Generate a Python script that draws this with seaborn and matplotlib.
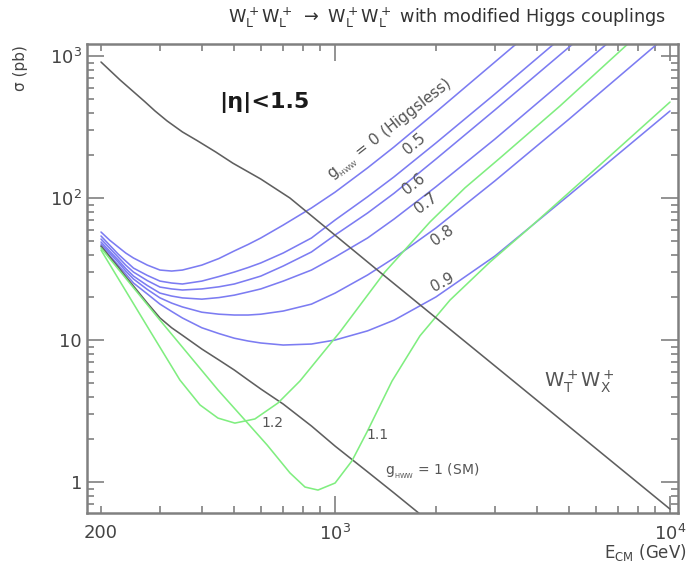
import pandas as pd
import seaborn as sns
import matplotlib.pyplot as plt
from matplotlib.ticker import FixedLocator, FuncFormatter, LogLocator, NullFormatter

# energy grid shared by the g_HWW curves (GeV)
energy = [200, 212, 225, 237, 250, 275, 300, 325, 350, 400, 450, 500, 550, 600, 700, 850,
          1000, 1250, 1500, 2000, 3000, 5000, 10000]

# sigma (pb) for each Higgs coupling
g_00 = [57.6, 50.6, 45.2, 41.0, 37.8, 33.7, 31.1, 30.6, 31.1, 33.7, 37.5, 42.4, 47.1, 52.3, 64.5, 85.1,
        110, 163, 229, 403, 907, 2520, 10160]
g_05 = [54.0, 46.7, 40.3, 36.0, 32.1, 28.5, 26.0, 25.2, 24.8, 26.0, 28.0, 30.1, 32.4, 34.9, 41.0, 52.3,
        70.0, 102, 141, 244, 540, 1500, 6050]
g_06 = [51.4, 44.5, 38.4, 33.7, 30.1, 26.2, 23.6, 22.9, 22.5, 22.9, 23.7, 24.8, 26.5, 28.2, 33.2, 41.7,
        54.9, 78.4, 108, 188, 417, 1157, 4670]
g_07 = [49.0, 42.4, 36.6, 31.9, 28.2, 24.2, 21.4, 20.4, 19.8, 19.4, 19.9, 20.7, 21.8, 22.9, 26.0, 31.1,
        38.4, 52.3, 71.1, 120, 260, 723, 2920]
g_08 = [47.4, 41.0, 35.4, 30.6, 26.9, 22.7, 19.8, 18.2, 17.1, 15.7, 15.2, 15.0, 15.0, 15.2, 16.0, 17.9,
        21.4, 28.7, 37.8, 61.5, 132, 360, 1452]
g_09 = [45.9, 39.4, 33.7, 29.2, 25.2, 21.1, 17.9, 15.9, 14.3, 12.2, 11.1, 10.3, 9.84, 9.53, 9.22, 9.37,
        10.0, 11.6, 13.8, 20.1, 39.0, 105, 410]
g_sm = [45.9, 38.7, 32.7, 28.0, 24.0, 18.2, 14.3, 12.2, 10.8, 8.64, 7.23, 6.15, 5.23, 4.52, 3.54, 2.48,
        1.79, 1.18, 0.837, 0.482, 0.225, 0.0865, 0.0232]

# g_HWW > 1 curves, own energy points
e_12 = [200, 280, 344, 395, 447, 502, 576, 675, 785, 1034, 1408, 1920, 2443, 3105, 4690, 7480, 10000]
g_12 = [43.0, 11.6, 5.23, 3.49, 2.82, 2.60, 2.78, 3.60, 5.14, 11.4, 30.1, 67.8, 118, 191, 444, 1215, 2213]
e_11 = [200, 300, 447, 538, 627, 733, 813, 889, 1000, 1123, 1245, 1479, 1792, 2203, 2900, 3740, 6180, 10000]
g_11 = [44.5, 13.8, 4.45, 2.73, 1.82, 1.16, 0.922, 0.878, 0.984, 1.41, 2.25, 5.14, 10.7, 19.1, 35.4, 59.5,
        171, 474]

# transverse background W_T W_X
e_wt = [200, 228, 270, 290, 315, 350, 387, 440, 495, 600, 733, 1360, 3105, 10000]
s_wt = [907, 678, 478, 410, 349, 292, 254, 211, 176, 136, 100, 30.1, 6.15, 0.645]

BLUE = "#7c7cf2"
GREEN = "#80ee80"
GREY = "#5f5f5f"
TXT = "#555555"

frames = []
for name, vals in [("0", g_00), ("0.5", g_05), ("0.6", g_06), ("0.7", g_07),
                   ("0.8", g_08), ("0.9", g_09), ("1", g_sm)]:
    frames.append(pd.DataFrame({"E": energy, "sigma": vals, "curve": name}))
frames.append(pd.DataFrame({"E": e_12, "sigma": g_12, "curve": "1.2"}))
frames.append(pd.DataFrame({"E": e_11, "sigma": g_11, "curve": "1.1"}))
frames.append(pd.DataFrame({"E": e_wt, "sigma": s_wt, "curve": "WTWX"}))
df = pd.concat(frames, ignore_index=True)

pal = {"0": BLUE, "0.5": BLUE, "0.6": BLUE, "0.7": BLUE, "0.8": BLUE, "0.9": BLUE,
       "1": GREY, "1.2": GREEN, "1.1": GREEN, "WTWX": GREY}

sns.set_style("ticks")
plt.rcParams["font.family"] = ["DejaVu Sans"]
plt.rcParams["mathtext.default"] = "regular"

fig, ax = plt.subplots(figsize=(6.87, 5.67), dpi=100)
fig.subplots_adjust(left=0.1266, right=0.987, bottom=0.0952, top=0.9224)

sns.lineplot(data=df, x="E", y="sigma", hue="curve", palette=pal, estimator=None,
             sort=False, legend=False, linewidth=1.15, ax=ax)

ax.set_xscale("log")
ax.set_yscale("log")
ax.set_xlim(181.6, 10570)
ax.set_ylim(0.605, 1215)
ax.set_xlabel("")
ax.set_ylabel("")

# ticks
ax.xaxis.set_major_locator(FixedLocator([1000, 10000]))
ax.xaxis.set_major_formatter(FuncFormatter(lambda v, p: {1000: "$10^3$", 10000: "$10^4$"}.get(int(round(v)), "")))
ax.xaxis.set_minor_locator(LogLocator(base=10, subs=range(2, 10)))
ax.xaxis.set_minor_formatter(FuncFormatter(lambda v, p: "200" if abs(v - 200) < 1 else ""))
ax.yaxis.set_major_locator(FixedLocator([1, 10, 100, 1000]))
ax.yaxis.set_major_formatter(FuncFormatter(lambda v, p: {1: "1", 10: "10", 100: "$10^2$", 1000: "$10^3$"}.get(int(round(v)), "")))
ax.yaxis.set_minor_locator(LogLocator(base=10, subs=range(2, 10)))
ax.yaxis.set_minor_formatter(NullFormatter())
ax.tick_params(which="both", direction="in", top=True, right=True, color="#808080", width=1.2,
               labelcolor="#444444", labelsize=13)
ax.tick_params(which="major", length=12)
ax.tick_params(which="minor", length=5)
ax.tick_params(axis="x", which="both", pad=8)
for s in ax.spines.values():
    s.set_color("#808080")
    s.set_linewidth(1.8)

# annotations
ax.text(613, 474, "|η|<1.5", fontsize=16, fontweight="bold", color="#1a1a1a", ha="center", va="center")
ax.text(1458, 301, r"$g_{_{HWW}}$ = 0 (Higgsless)", fontsize=11, color=TXT, rotation=38,
        ha="center", va="center", rotation_mode="anchor")
for lab, e, s, rot in [("0.5", 1720, 240, 40), ("0.6", 1720, 125, 38), ("0.7", 1868, 92, 37),
                       ("0.8", 2083, 54.9, 35), ("0.9", 2100, 25.6, 28)]:
    ax.text(e, s, lab, fontsize=11, color=TXT, rotation=rot, ha="center", va="center",
            rotation_mode="anchor")
ax.text(648, 2.6, "1.2", fontsize=10, color=TXT, ha="center", va="center")
ax.text(1343, 2.14, "1.1", fontsize=10, color=TXT, ha="center", va="center")
ax.text(1945, 1.18, r"$g_{_{HWW}}$ = 1 (SM)", fontsize=10, color=TXT, ha="center", va="center")
ax.text(5380, 5.06, r"$W_T^+W_X^+$", fontsize=14, color=TXT, ha="center", va="center")

fig.text(0.65, 0.968, r"$W_L^+W_L^+\ \rightarrow\ W_L^+W_L^+$ with modified Higgs couplings",
         fontsize=12.7, color="#333333", ha="center", va="center")
fig.text(0.03, 0.88, "σ (pb)", rotation=90, fontsize=11, color="#444444", ha="center", va="center")
fig.text(0.94, 0.025, r"E$_{CM}$ (GeV)", fontsize=12, color="#444444", ha="center", va="center")

fig.savefig("out.png", dpi=100)
